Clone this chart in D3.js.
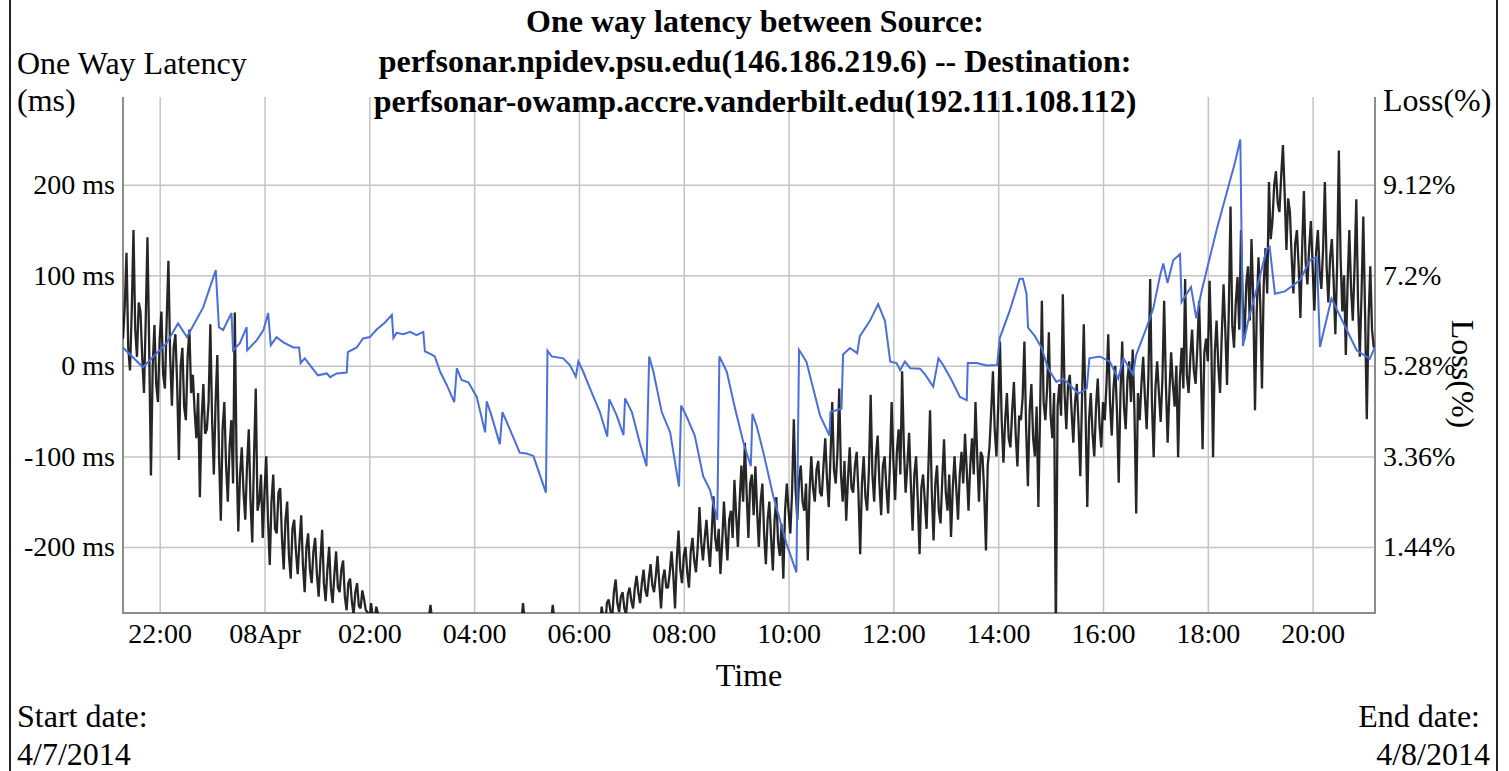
<!DOCTYPE html>
<html>
<head>
<meta charset="utf-8">
<script src="https://cdn.jsdelivr.net/npm/d3@7"></script>
<style>
  body { margin: 0; background: #fff; }
  text { font-family: "Liberation Serif", "Times New Roman", serif; fill: #000; }
  .tick text { font-size: 28px; }
  .label { font-size: 32px; }
  .title { font-size: 32px; font-weight: bold; }
  .grid line { stroke: #c4c4c4; stroke-width: 1.5; }
</style>
</head>
<body>
<div id="LatencyChart"></div>
<script>
// one way latency (ms), one sample every 2 minutes from 21:18 on 4/7
const latencyStartHour = 21.3;
const latencyStepMinutes = 2;
const latencyMs = [
  30, 65, 125, 20, -5, 60, 150, 40, 10, 70,
  60, 10, -30, 50, 142, 20, -121, 0, 45, -20,
  -40, 30, 60, -10, -25, 50, 116, 10, -44, 20,
  35, -20, -104, 0, 20, -45, -60, 10, 40, -30,
  -10, -50, -80, -30, -145, -60, -20, -75, -70, -40,
  46, -60, -120, -40, 12, -100, -171, -70, -40, -110,
  -150, -90, -60, -130, 59, -100, -183, -120, -90, -140,
  -170, -110, -70, -150, -195, -100, -25, -160, -150, -120,
  -190, -140, -100, -170, -220, -150, -120, -180, -185, -140,
  -135, -190, -225, -170, -150, -210, -235, -180, -170, -205,
  -230, -195, -165, -220, -250, -200, -185, -225, -240, -205,
  -190, -230, -255, -215, -181, -240, -260, -225, -200, -245,
  -262, -230, -205, -245, -250, -225, -215, -255, -270, -240,
  -235, -260, -275, -250, -240, -265, -268, -248, -258, -270,
  -272, -285, -262, -278, -280, -266, -274, -290, -300, -295,
  // below the bottom of the axis from about 02:10 to 06:25
  -300, -295, -305, -290, -298, -302, -310, -295, -288, -300,
  -305, -292, -298, -300, -310, -296, -290, -302, -295, -300,
  -298, -305, -290, -296, -285, -280, -264, -282, -295, -300,
  -302, -298, -310, -294, -300, -292, -305, -298, -290, -300,
  -296, -305, -300, -292, -310, -298, -290, -302, -296, -300,
  -305, -294, -300, -290, -298, -306, -300, -295, -302, -290,
  -300, -296, -305, -292, -298, -300, -310, -294, -300, -296,
  -302, -298, -290, -305, -300, -295, -288, -280, -285, -262,
  -284, -295, -300, -305, -296, -300, -292, -298, -305, -300,
  -295, -300, -290, -286, -280, -284, -264, -282, -292, -300,
  -298, -305, -296, -300, -290, -302, -295, -300, -292, -298,
  -300, -295, -290, -298, -302, -288, -295, -300, -285, -292,
  -288, -296, -280, -290,
  // recovery
  -266, -278, -290, -262, -258, -270, -280, -250, -236, -262, -272, -255, -250, -268, -275, -252, -245, -260,
  -268, -245, -232, -250, -262, -240, -225, -248, -255, -235, -219, -242,
  -250, -232, -210, -240, -268, -235, -225, -245, -245, -228,
  -205, -230, -268, -215, -182, -225, -240, -210, -200, -228,
  -245, -205, -190, -215, -228, -200, -156, -195, -215, -190,
  -170, -200, -222, -185, -144, -190, -205, -180, -230, -195,
  -150, -185, -215, -170, -160, -190, -126, -165, -200, -150,
  -110, -150, -85, -140, -190, -130, -120, -165,
  -111, -160, -200, -150, -130, -185, -219, -170,
  -150, -190, -226, -170, -145, -195, -210, -175, -235, -160,
  -130, -160, -185, -140, -59, -135, -170, -125, -110, -150,
  -160, -130, -215, -140, -100, -135, -150, -115, -105, -140,
  -144, -110, -80, -125, -156, -100, -40, -115, -130, -95,
  -25, -120, -150, -105, -171, -125, -90, -135, -140, -110,
  -95, -140, -208, -130, -100, -145, -160, -115, -32, -120, -150, -100, -77, -130, -165, -110,
  -100, -135, -163, -110, -40, -105, -148, -95, -70, -120, -6, -90,
  -140, -110, -74, -130, -182, -120, -100, -150, -208, -135,
  -120, -150, -180, -115, -49, -140, -193, -130, -110, -160,
  -174, -125, -81, -140, -160, -120, -189, -135,
  -100, -135, -170, -120, -95, -130, -75, -115, -160, -110,
  -80, -120, -40, -100, -150, -95, -100, -140, -204, -110,
  -90, -50, -6, -70, -100, -45, 27, -60,
  -107, -60, -30, -80, -90, -50, -18, -75, -111, -55,
  -60, -35, 27, -70, -133, -50, -20, -80, -100, -45,
  -156, -50, 72, -40, -60, -25, 37, -55, -80, -30,
  -300, -45, -20, -55, 79, -30, -70, -20, -10, -50,
  -85, -40, -20, -65, -122, -35, 46, -50,
  -156, -60, -30, -75, -100, -45, -14, -65, -90, -40,
  -60, -20, 35, -40, -77, -25, 0, -50, -129, -30, 27, -45, -70, -15, 5, -40,
  18, -50, -163, -30,
  -60, -20, 10, -35, -70, -10, 96, -40, -101, -25,
  5, -30, -62, -15, 72, -20, -85, -30,
  15, -20, -45, 0, -101, -15, 20, -25, 96, -10,
  -30, 10, 40, -5, -20, 20, 72, 0, -92, 15,
  30, 5, 94, 25, -101, 15, 50, 0, -30, 35,
  90, 40, -21, 60, 176, 45, 20, 70, 98, 40,
  150, 70, 30, 90, 110, 50, 140, 75, -49, 60,
  120, 70, -25, 90, 130, 80, 203, 140,
  160, 200, 215, 180, 170, 210, 244, 190, 128, 185,
  170, 120, 80, 135, 150, 110, 53, 130, 193, 115,
  90, 130, 160, 110, 61, 125, 150, 105, 85, 130,
  203, 110, 70, 120, 140, 95, 35, 110,
  238, 120, 60, 100, 12, 90, 150, 85, 50, 110,
  184, 70, 10, 80, 165, 60, -59, 50, 110, 40, 20
];

// loss (%) points: hour of day counted from 4/7 00:00
const lossHours = [
  21.30, 21.68, 22.13, 22.35, 22.52, 22.83, 23.07, 23.13, 23.21, 23.37, 23.40, 23.53, 23.66, 23.67,
  23.85, 23.98, 24.07, 24.12, 24.23, 24.36, 24.55, 24.66, 24.69, 24.77, 24.90, 25.02, 25.19, 25.25,
  25.38, 25.57, 25.59, 25.76, 25.88, 26.01, 26.14, 26.30, 26.43, 26.46, 26.52, 26.65, 26.78, 26.90,
  27.03, 27.06, 27.19, 27.25, 27.35, 27.48, 27.62, 27.67, 27.76, 27.89, 28.05, 28.21, 28.24, 28.33,
  28.49, 28.54, 28.68, 28.87, 29.00, 29.13, 29.22, 29.37, 29.40, 29.48, 29.70, 29.83, 29.94, 29.99,
  30.08, 30.21, 30.40, 30.54, 30.58, 30.72, 30.85, 30.88, 31.01, 31.16, 31.29, 31.34, 31.42, 31.58,
  31.74, 31.91, 31.95, 32.06, 32.21, 32.37, 32.50, 32.64, 32.68, 32.82, 32.98, 33.14, 33.28, 33.31,
  33.39, 33.52, 33.71, 33.96, 34.15, 34.20, 34.34, 34.47, 34.60, 34.78, 34.80, 35.01, 35.04, 35.17,
  35.31, 35.36, 35.55, 35.71, 35.84, 35.94, 36.06, 36.13, 36.22, 36.32, 36.51, 36.61, 36.76, 36.86,
  36.95, 37.11, 37.27, 37.40, 37.42, 37.59, 37.78, 37.98, 38.03, 38.22, 38.41, 38.47, 38.54, 38.57,
  38.70, 38.83, 38.95, 39.11, 39.24, 39.37, 39.53, 39.69, 39.74, 39.94, 40.13, 40.29, 40.39, 40.57,
  40.63, 40.83, 40.96, 41.09, 41.15, 41.23, 41.34, 41.47, 41.50, 41.62, 41.68, 41.78, 41.87, 42.01,
  42.17, 42.36, 42.52, 42.62, 42.67, 42.77, 42.93, 43.12, 43.18, 43.28, 43.47, 43.63, 43.76, 43.95,
  44.08, 44.14, 44.36, 44.84, 45.09, 45.19
];
const lossPct = [
  5.67, 5.25, 5.76, 6.18, 5.89, 6.52, 7.31, 6.10, 6.04, 6.40, 5.61, 5.76, 6.10, 5.61,
  5.82, 6.04, 6.40, 5.72, 5.89, 5.78, 5.67, 5.67, 5.34, 5.44, 5.25, 5.08, 5.12, 5.04,
  5.12, 5.14, 5.57, 5.67, 5.86, 5.89, 6.05, 6.20, 6.36, 5.87, 5.98, 5.95, 6.00, 5.93,
  6.00, 5.59, 5.52, 5.48, 5.16, 4.87, 4.51, 5.23, 4.98, 4.93, 4.62, 3.87, 4.53, 4.23,
  3.62, 4.30, 3.94, 3.44, 3.42, 3.37, 3.08, 2.59, 5.60, 5.48, 5.44, 5.29, 5.05, 5.37,
  5.16, 4.80, 4.30, 3.78, 4.57, 4.23, 3.81, 4.59, 4.30, 3.65, 3.15, 5.48, 5.16, 4.30,
  3.87, 2.72, 4.44, 4.19, 3.80, 2.94, 2.65, 2.01, 5.48, 5.16, 4.37, 3.65, 3.15, 4.26,
  4.01, 3.44, 2.51, 1.51, 0.90, 5.62, 5.37, 4.80, 4.23, 3.80, 4.30, 4.37, 5.52, 5.66,
  5.55, 5.91, 6.23, 6.59, 6.23, 5.37, 5.34, 5.19, 5.37, 5.23, 5.22, 5.09, 4.84, 5.44,
  5.30, 4.98, 4.62, 4.55, 5.34, 5.34, 5.29, 5.30, 5.87, 6.45, 7.13, 7.13, 6.81, 6.09,
  5.91, 5.66, 5.23, 4.94, 5.01, 4.87, 4.69, 4.80, 5.44, 5.48, 5.37, 5.01, 5.44, 5.10,
  5.50, 6.09, 6.50, 7.20, 7.45, 7.04, 7.52, 7.65, 6.63, 6.85, 6.95, 6.29, 6.81, 7.45,
  8.17, 8.95, 9.60, 10.08, 5.70, 6.23, 6.90, 7.74, 7.80, 6.81, 6.86, 6.99, 7.10, 7.52,
  7.59, 5.68, 6.71, 5.61, 5.43, 5.68
];

const yTicks = [-200, -100, 0, 100, 200];
const lossTicks = [1.44, 3.36, 5.28, 7.2, 9.12];
const xTickHours = [22, 24, 26, 28, 30, 32, 34, 36, 38, 40, 42, 44];
const xTickLabels = ["22:00", "08Apr", "02:00", "04:00", "06:00", "08:00", "10:00",
  "12:00", "14:00", "16:00", "18:00", "20:00"];
const titleLines = [
  "One way latency between Source:",
  "perfsonar.npidev.psu.edu(146.186.219.6) -- Destination:",
  "perfsonar-owamp.accre.vanderbilt.edu(192.111.108.112)"
];

const W = 1509, H = 771;
const plot = { left: 123, right: 1375, top: 97, bottom: 613 };

const day0 = new Date(2014, 3, 7).getTime();
const toDate = h => new Date(day0 + h * 3600000);

const svg = d3.select("#LatencyChart")
  .append("svg")
  .attr("width", W)
  .attr("height", H);

const x = d3.scaleTime()
  .domain([toDate(21.30), toDate(45.19)])
  .range([plot.left, plot.right]);
const y = d3.scaleLinear()
  .domain([-273, 297])
  .range([plot.bottom, plot.top]);
// loss axis is tied to the latency axis: 100 ms <-> 1.92 %
const yLoss = d3.scaleLinear()
  .domain([5.28 - 273 * 0.0192, 5.28 + 297 * 0.0192])
  .range([plot.bottom, plot.top]);

// grid
svg.append("g")
  .attr("class", "grid")
  .attr("transform", `translate(0,${plot.bottom})`)
  .call(d3.axisBottom(x).tickValues(xTickHours.map(toDate))
    .tickSize(-(plot.bottom - plot.top)).tickFormat(""))
  .call(g => g.select(".domain").remove());
svg.append("g")
  .attr("class", "grid")
  .attr("transform", `translate(${plot.left},0)`)
  .call(d3.axisLeft(y).tickValues(yTicks)
    .tickSize(-(plot.right - plot.left)).tickFormat(""))
  .call(g => g.select(".domain").remove());

// frame of the plot area (left, bottom, right)
svg.append("path")
  .attr("d", `M${plot.left},${plot.top}V${plot.bottom}H${plot.right}V${plot.top}`)
  .attr("fill", "none")
  .attr("stroke", "#8c8c8c")
  .attr("stroke-width", 2);

// outer border of the page
svg.append("line").attr("x1", 10).attr("x2", 10).attr("y1", 0).attr("y2", H)
  .attr("stroke", "#222").attr("stroke-width", 2);
svg.append("line").attr("x1", 1497).attr("x2", 1497).attr("y1", 0).attr("y2", H)
  .attr("stroke", "#222").attr("stroke-width", 2);

svg.append("clipPath").attr("id", "plotClip")
  .append("rect")
  .attr("x", plot.left).attr("y", plot.top)
  .attr("width", plot.right - plot.left)
  .attr("height", plot.bottom - plot.top);

const latencyLine = d3.line()
  .x((d, i) => x(toDate(latencyStartHour + i * latencyStepMinutes / 60)))
  .y(d => y(d));
svg.append("path")
  .datum(latencyMs)
  .attr("clip-path", "url(#plotClip)")
  .attr("d", latencyLine)
  .attr("fill", "none")
  .attr("stroke", "#000")
  .attr("stroke-opacity", 0.85)
  .attr("stroke-width", 2.3)
  .attr("stroke-linejoin", "bevel");

const lossLine = d3.line()
  .x((d, i) => x(toDate(lossHours[i])))
  .y(d => yLoss(d));
svg.append("path")
  .datum(lossPct)
  .attr("clip-path", "url(#plotClip)")
  .attr("d", lossLine)
  .attr("fill", "none")
  .attr("stroke", "#4a6fdc")
  .attr("stroke-width", 2);

// axes
svg.append("g")
  .attr("transform", `translate(0,${plot.bottom})`)
  .call(d3.axisBottom(x).tickValues(xTickHours.map(toDate))
    .tickSize(0).tickPadding(10)
    .tickFormat((d, i) => xTickLabels[i]))
  .call(g => g.select(".domain").remove());
svg.append("g")
  .attr("transform", `translate(${plot.left},0)`)
  .call(d3.axisLeft(y).tickValues(yTicks)
    .tickSize(0).tickPadding(8)
    .tickFormat(d => d + " ms"))
  .call(g => g.select(".domain").remove());
svg.append("g")
  .attr("transform", `translate(${plot.right},0)`)
  .call(d3.axisRight(yLoss).tickValues(lossTicks)
    .tickSize(0).tickPadding(8)
    .tickFormat(d => d + "%"))
  .call(g => g.select(".domain").remove());

// title
svg.selectAll(".title")
  .data(titleLines)
  .join("text")
    .attr("class", "title")
    .attr("x", 755)
    .attr("y", (d, i) => 32 + i * 40)
    .attr("text-anchor", "middle")
    .text(d => d);

// labels
svg.append("text").attr("class", "label").attr("x", 17).attr("y", 74).text("One Way Latency");
svg.append("text").attr("class", "label").attr("x", 17).attr("y", 111).text("(ms)");
svg.append("text").attr("class", "label").attr("x", 1383).attr("y", 111).text("Loss(%)");
svg.append("text")
  .attr("class", "label")
  .attr("transform", "translate(1452,374) rotate(90)")
  .attr("text-anchor", "middle")
  .text("Loss(%)");
svg.append("text").attr("class", "label").attr("x", 749).attr("y", 686)
  .attr("text-anchor", "middle").text("Time");
svg.append("text").attr("class", "label").attr("x", 17).attr("y", 727).text("Start date:");
svg.append("text").attr("class", "label").attr("x", 17).attr("y", 765).text("4/7/2014");
svg.append("text").attr("class", "label").attr("x", 1480).attr("y", 727)
  .attr("text-anchor", "end").text("End date:");
svg.append("text").attr("class", "label").attr("x", 1490).attr("y", 765)
  .attr("text-anchor", "end").text("4/8/2014");
</script>
</body>
</html>
